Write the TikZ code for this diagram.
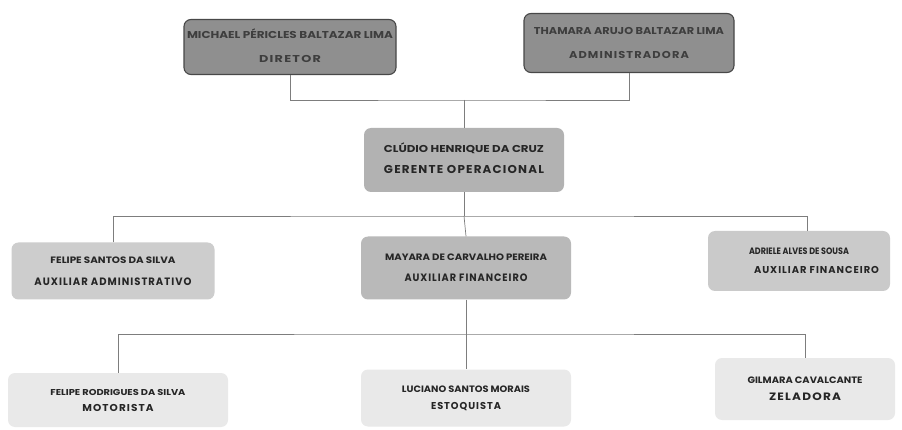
\documentclass[tikz,border=0pt]{standalone}
\usepackage{fontspec}
\setmainfont{Poppins}
\newfontfamily\ttlfont[LetterSpace=10]{Poppins}
\usepackage{graphicx}
\definecolor{topfill}{RGB}{143,143,143}
\definecolor{topedge}{RGB}{72,72,72}
\definecolor{toptext}{RGB}{62,62,62}
\definecolor{midfill}{RGB}{178,178,178}
\definecolor{lowfill}{RGB}{205,205,205}
\definecolor{palefill}{RGB}{233,233,233}
\definecolor{txt}{RGB}{38,38,38}
\definecolor{wire}{RGB}{125,125,125}
% #1 width, #2 cap height, #3 text
\newcommand{\nm}[3]{\resizebox{#1pt}{#2pt}{\bfseries\smash{#3}\vphantom{A}}}
\newcommand{\tl}[3]{\resizebox{#1pt}{#2pt}{\ttlfont\bfseries\smash{#3}\vphantom{A}}}
\tikzset{
  box/.style={rounded corners=7pt, align=center, inner sep=0pt, text=txt,
    font=\fontsize{8}{19}\selectfont},
  topbox/.style={box, fill=topfill, draw=topedge, line width=1.1pt, text=toptext},
  wirestyle/.style={draw=wire, line width=0.7pt}
}
\begin{document}
\begin{tikzpicture}[x=1pt,y=-1pt]
\useasboundingbox (0,0) rectangle (902,430);
\fill[white] (0,0) rectangle (902,430);
% top row
\node[topbox, minimum width=212pt, minimum height=55pt] (b1) at (290,47)
  {\nm{206}{7}{MICHAEL PÉRICLES BALTAZAR LIMA}\\[5pt]\tl{62}{7}{DIRETOR}};
\node[topbox, minimum width=210pt, minimum height=59pt] (b2) at (629,43)
  {\nm{190}{7}{THAMARA ARUJO BALTAZAR LIMA}\\[5pt]\tl{120}{7}{ADMINISTRADORA}};
% manager
\node[box, fill=midfill, minimum width=200pt, minimum height=64pt] (b3) at (464,160)
  {\nm{160}{7}{CLÚDIO HENRIQUE DA CRUZ}\\[2pt]\tl{160}{8}{GERENTE OPERACIONAL}};
% second level
\node[box, fill=lowfill, minimum width=203pt, minimum height=57pt] (b4) at (113,271)
  {\nm{125}{6.5}{FELIPE SANTOS DA SILVA}\\[3pt]\tl{157}{7.5}{AUXILIAR ADMINISTRATIVO}};
\node[box, fill=midfill!75!lowfill, minimum width=210pt, minimum height=63pt] (b5) at (466,268)
  {\nm{162}{6.5}{MAYARA DE CARVALHO PEREIRA}\\[2pt]\tl{123}{7.5}{AUXILIAR FINANCEIRO}};
\node[box, fill=lowfill!90!midfill, minimum width=182pt, minimum height=60pt] (b6) at (799,261)
  {\nm{100}{6.5}{ADRIELE ALVES DE SOUSA}\\[0pt]\hspace*{35pt}\tl{125}{7}{AUXILIAR FINANCEIRO}};
% third level
\node[box, fill=palefill, minimum width=220pt, minimum height=54pt] (b7) at (118,400)
  {\nm{135}{6}{FELIPE RODRIGUES DA SILVA}\\[-3pt]\tl{71}{7}{MOTORISTA}};
\node[box, fill=palefill, minimum width=210pt, minimum height=57pt] (b8) at (466,398)
  {\nm{128}{6.5}{LUCIANO SANTOS MORAIS}\\[-2pt]\tl{70}{7}{ESTOQUISTA}};
\node[box, fill=palefill, minimum width=180pt, minimum height=62pt] (b9) at (805,389)
  {\nm{115}{6.5}{GILMARA CAVALCANTE}\\[-2pt]\tl{72}{7.5}{ZELADORA}};
% junctions
\coordinate (j1) at (464,100);
\coordinate (j2) at (464,216);
\coordinate (j3) at (466,334);
% connectors
\draw[wirestyle] (b1.south) |- (j1) -| (b2.south);
\draw[wirestyle] (j1) -- (b3.north);
\draw[wirestyle] (b3.south) -- (j2);
\draw[wirestyle] (b4.north) |- (j2) -| ([xshift=8pt]b6.north);
\draw[wirestyle] (j2) -- (b5.north);
\draw[wirestyle] (b5.south) -- (j3);
\draw[wirestyle] (b7.north) |- (j3) -| (b9.north);
\draw[wirestyle] (j3) -- (b8.north);
\end{tikzpicture}
\end{document}
